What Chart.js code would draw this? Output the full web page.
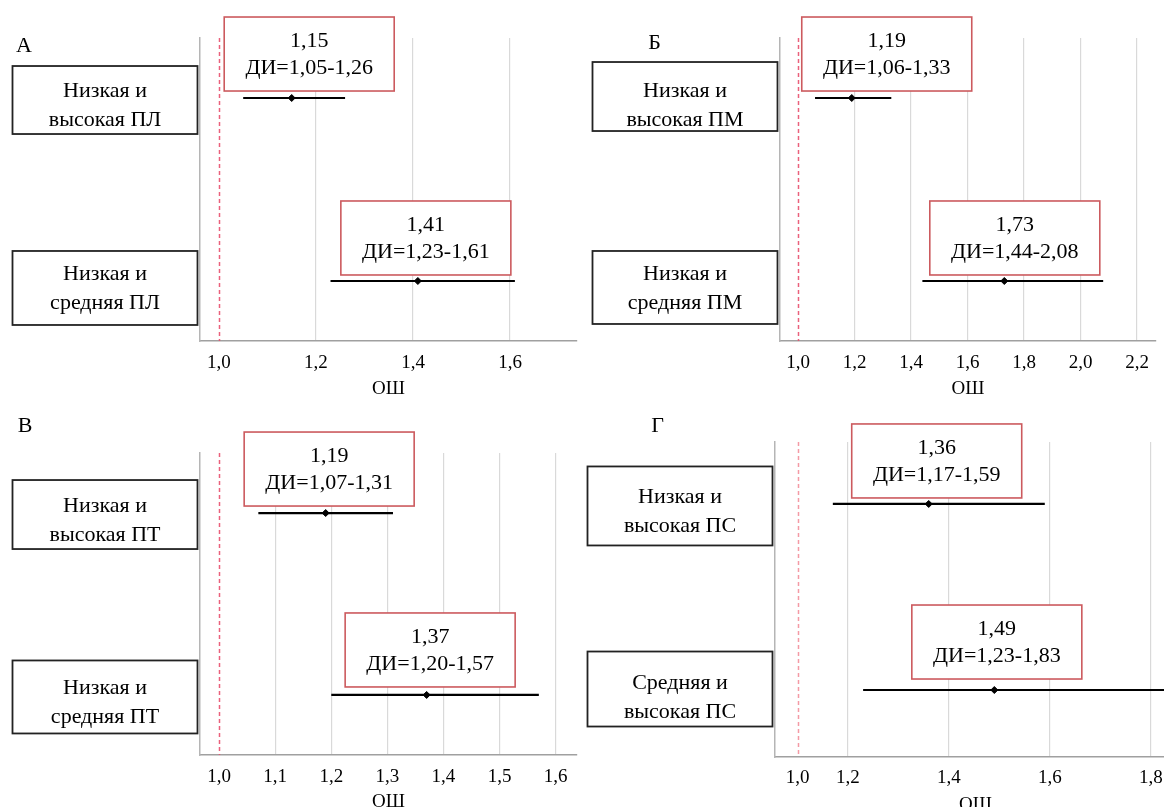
<!DOCTYPE html>
<html><head><meta charset="utf-8">
<script src="https://cdn.jsdelivr.net/npm/chart.js@4.4.1/dist/chart.umd.min.js"></script>
<style>
html,body{margin:0;padding:0;background:#fff;overflow:hidden;width:1164px;height:807px;position:relative;}
canvas{position:absolute;}
</style></head><body>
<canvas id="c0"></canvas>
<canvas id="c1"></canvas>
<canvas id="c2"></canvas>
<canvas id="c3"></canvas>
<script>
// ---------- DATA ----------
const panelLetters = ['А', 'Б', 'В', 'Г'];

const groupsA = [['Низкая и', 'высокая ПЛ'], ['Низкая и', 'средняя ПЛ']];
const orA = [1.15, 1.41];
const lowA = [1.05, 1.23];
const highA = [1.26, 1.61];
const tickValuesA = [1.0, 1.2, 1.4, 1.6];
const tickLabelsA = ['1,0', '1,2', '1,4', '1,6'];

const groupsB = [['Низкая и', 'высокая ПМ'], ['Низкая и', 'средняя ПМ']];
const orB = [1.19, 1.73];
const lowB = [1.06, 1.44];
const highB = [1.33, 2.08];
const tickValuesB = [1.0, 1.2, 1.4, 1.6, 1.8, 2.0, 2.2];
const tickLabelsB = ['1,0', '1,2', '1,4', '1,6', '1,8', '2,0', '2,2'];

const groupsC = [['Низкая и', 'высокая ПТ'], ['Низкая и', 'средняя ПТ']];
const orC = [1.19, 1.37];
const lowC = [1.07, 1.20];
const highC = [1.31, 1.57];
const tickValuesC = [1.0, 1.1, 1.2, 1.3, 1.4, 1.5, 1.6];
const tickLabelsC = ['1,0', '1,1', '1,2', '1,3', '1,4', '1,5', '1,6'];

const groupsD = [['Низкая и', 'высокая ПС'], ['Средняя и', 'высокая ПС']];
const orD = [1.36, 1.49];
const lowD = [1.17, 1.23];
const highD = [1.59, 1.83];
// in the source panel Г the "1,0" mark and dashed line sit one half-step left of 1,2
const tickValuesD = [1.1, 1.2, 1.4, 1.6, 1.8];
const tickLabelsD = ['1,0', '1,2', '1,4', '1,6', '1,8'];

const refLines = [1.0, 1.0, 1.0, 1.1];
const axisTitle = 'ОШ';

// ---------- LAYOUT / STYLE ----------
const FONT = "'Liberation Serif', 'Times New Roman', serif";
const layouts = [
  {pos:[0,0,582,400], pad:{left:200,right:5,top:38,bottom:0}, axisH:59, xMin:0.961, xMax:1.738, yMin:-0.328, yMax:1.328, tickPad:11, titlePad:0, letter:[24,52], annDx:[17.5,8], annGap:[7,6], lblDy:[2,7], lblH:[68,74], refColor:'rgba(232,80,110,0.9)'},
  {pos:[582,0,582,400], pad:{left:198,right:8,top:38,bottom:0}, axisH:59, xMin:0.936, xMax:2.267, yMin:-0.328, yMax:1.328, tickPad:11, titlePad:0, letter:[72.5,49], annDx:[35,10.5], annGap:[7,6], lblDy:[-1.5,6.5], lblH:[69,73], refColor:'rgba(232,80,110,0.9)'},
  {pos:[0,400,582,420], pad:{left:200,right:2,top:53,bottom:0}, axisH:65, xMin:0.966, xMax:1.638, yMin:-0.33, yMax:1.33, tickPad:11, titlePad:7, letter:[25,32], annDx:[3.5,3.5], annGap:[7,8], lblDy:[1.5,2], lblH:[69,73], refColor:'rgba(232,80,110,0.9)'},
  {pos:[582,400,600,420], pad:{left:193,right:6,top:42,bottom:0}, axisH:63, xMin:1.0554, xMax:1.85, yMin:-0.333, yMax:1.36, tickPad:10, titlePad:4, letter:[75.5,32], annDx:[8,2.5], annGap:[6,11], lblDy:[2,-1], lblH:[79,75], refColor:'rgba(240,120,135,0.75)'}
];

const panels = [
  {groups:groupsA, or:orA, low:lowA, high:highA, ticks:tickValuesA, labels:tickLabelsA},
  {groups:groupsB, or:orB, low:lowB, high:highB, ticks:tickValuesB, labels:tickLabelsB},
  {groups:groupsC, or:orC, low:lowC, high:highC, ticks:tickValuesC, labels:tickLabelsC},
  {groups:groupsD, or:orD, low:lowD, high:highD, ticks:tickValuesD, labels:tickLabelsD}
];

const fmt = v => v.toFixed(2).replace('.', ',');

function makePlugin(idx){
  const d = panels[idx], L = layouts[idx], ref = refLines[idx];
  return {
    id: 'forest' + idx,
    beforeDatasetsDraw(chart){
      const {ctx, chartArea, scales:{x}} = chart;
      const px = Math.round(x.getPixelForValue(ref)) + 0.5;
      ctx.save();
      ctx.strokeStyle = L.refColor; ctx.lineWidth = 1.5; ctx.setLineDash([4,3]);
      ctx.beginPath(); ctx.moveTo(px, chartArea.top); ctx.lineTo(px, chartArea.bottom); ctx.stroke();
      ctx.restore();
    },
    afterDatasetsDraw(chart){
      const {ctx, chartArea, scales:{x, y}} = chart;
      ctx.save();
      // panel letter
      ctx.font = '22px ' + FONT; ctx.fillStyle = '#000'; ctx.textAlign = 'center'; ctx.textBaseline = 'alphabetic';
      ctx.fillText(panelLetters[idx], L.letter[0], L.letter[1]);
      d.groups.forEach((g, i) => {
        const ry = y.getPixelForValue(i);
        // group label box
        const bw = 185, bh = L.lblH[i];
        const bx = chartArea.left - 2.5 - bw, by = ry + L.lblDy[i] - bh/2;
        ctx.fillStyle = '#fff'; ctx.fillRect(bx, by, bw, bh);
        ctx.strokeStyle = '#222'; ctx.lineWidth = 1.8; ctx.setLineDash([]);
        ctx.strokeRect(bx, by, bw, bh);
        ctx.fillStyle = '#000'; ctx.font = '22px ' + FONT; ctx.textAlign = 'center';
        ctx.fillText(g[0], bx + bw/2, ry - 1);
        ctx.fillText(g[1], bx + bw/2, ry + 28);
        // value annotation box
        const aw = 170, ah = 74;
        const cx = x.getPixelForValue(d.or[i]) + L.annDx[i];
        const ay = ry - L.annGap[i] - ah;
        ctx.fillStyle = '#fff'; ctx.fillRect(cx - aw/2, ay, aw, ah);
        ctx.strokeStyle = '#cc5a5e'; ctx.lineWidth = 1.6;
        ctx.strokeRect(cx - aw/2, ay, aw, ah);
        ctx.fillStyle = '#000'; ctx.font = '22px ' + FONT;
        ctx.fillText(fmt(d.or[i]), cx, ay + 30);
        ctx.fillText('ДИ=' + fmt(d.low[i]) + '-' + fmt(d.high[i]), cx, ay + 57);
      });
      ctx.restore();
    }
  };
}

panels.forEach((d, idx) => {
  const L = layouts[idx];
  const cv = document.getElementById('c' + idx);
  cv.width = L.pos[2]; cv.height = L.pos[3];
  cv.style.left = L.pos[0] + 'px'; cv.style.top = L.pos[1] + 'px';
  cv.style.width = L.pos[2] + 'px'; cv.style.height = L.pos[3] + 'px';
  const ref = refLines[idx];
  const datasets = d.groups.map((g, i) => ({
    data: [{x: d.low[i], y: i}, {x: d.high[i], y: i}],
    showLine: true, borderColor: '#000', borderWidth: 2.2, pointRadius: 0, fill: false
  }));
  datasets.push({
    data: d.or.map((v, i) => ({x: v, y: i})),
    pointStyle: 'rectRot', pointRadius: 3.5, backgroundColor: '#000', borderColor: '#000', borderWidth: 1
  });
  new Chart(cv, {
    type: 'scatter',
    data: {datasets},
    options: {
      responsive: false, animation: false, devicePixelRatio: 1,
      layout: {padding: L.pad},
      plugins: {legend: {display: false}, tooltip: {enabled: false}},
      scales: {
        x: {
          type: 'linear', min: L.xMin, max: L.xMax,
          afterBuildTicks: s => { s.ticks = d.ticks.map(v => ({value: v})); },
          afterFit: s => { s.height = L.axisH; },
          grid: {drawTicks: false, lineWidth: 1.2,
                 color: c => (c.tick && Math.abs(c.tick.value - ref) < 1e-9) ? 'rgba(0,0,0,0)' : '#d9d9d9'},
          border: {display: true, color: '#a0a0a0', width: 1.6},
          ticks: {padding: L.tickPad, color: '#000', font: {family: FONT, size: 19}, autoSkip: false, maxRotation: 0,
                  callback: (v, i) => d.labels[i]},
          title: {display: true, text: axisTitle, color: '#000', font: {family: FONT, size: 19}, padding: {top: 0, bottom: L.titlePad}}
        },
        y: {
          type: 'linear', reverse: true, min: L.yMin, max: L.yMax,
          afterFit: s => { s.width = 0; },
          ticks: {display: false},
          grid: {display: false, drawTicks: false},
          border: {display: true, color: '#b5b5b5', width: 1.5}
        }
      }
    },
    plugins: [makePlugin(idx)]
  });
});
</script>
</body></html>
